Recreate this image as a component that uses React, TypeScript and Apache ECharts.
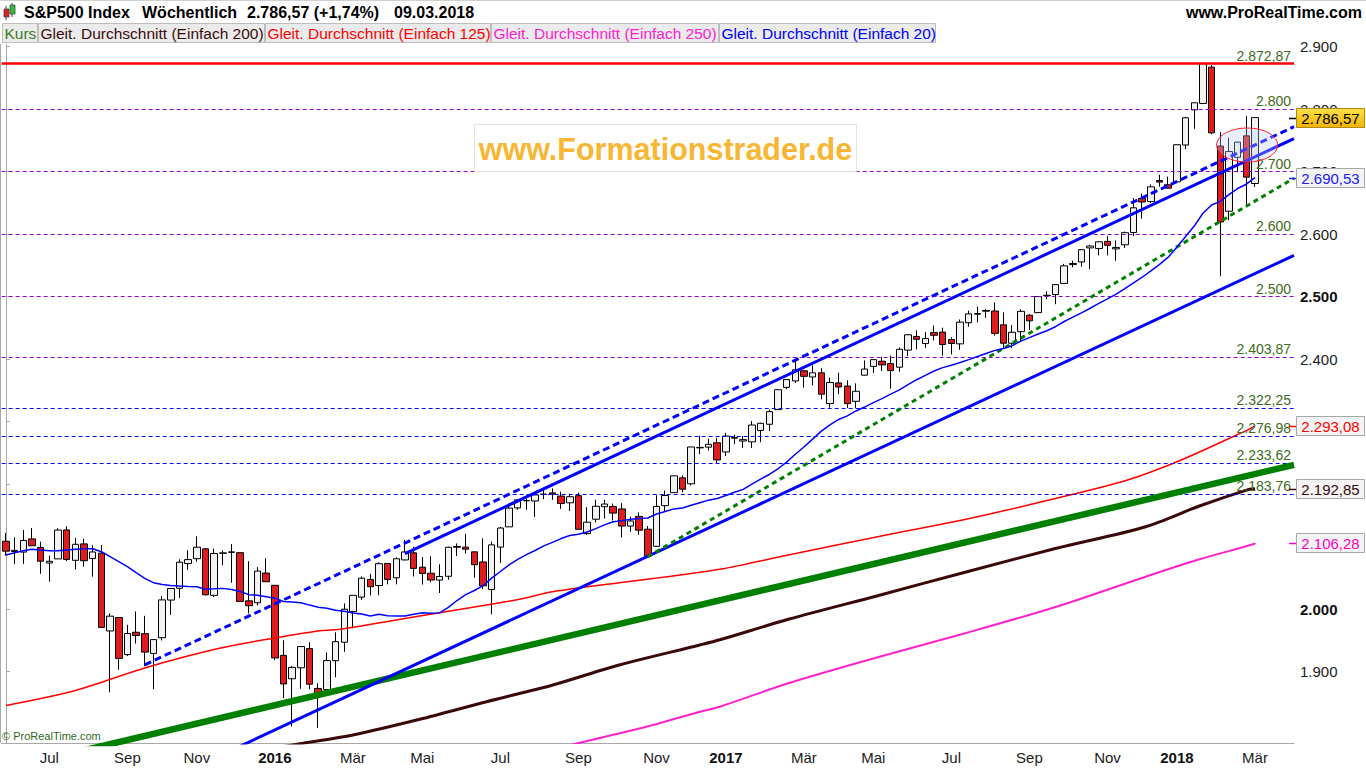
import React, { useEffect, useRef } from "react";
import * as echarts from "echarts";

// ---------- weekly candles (S&P 500, week ending Fri 05.06.2015 ... 09.03.2018) ----------
const candleOpen = [
  2108.64, 2092.34, 2091.34, 2112.5, 2098.63, 2073.95, 2080.47, 2126.8, 2078.19, 2104.49,
  2080.98, 2089.7, 1965.15, 1986.73, 1927.3, 1963.06, 1960.84, 1929.18, 1954.33, 2014.6,
  2033.47, 2073.0, 2080.76, 2096.56, 2022.08, 2089.41, 2090.95, 2090.42, 2013.37, 2010.27,
  2057.77, 2038.2, 1926.12, 1888.66, 1906.28, 1936.94, 1873.25, 1871.44, 1917.56, 1947.13,
  1996.11, 2019.27, 2047.62, 2037.89, 2073.19, 2050.23, 2078.83, 2090.21, 2067.17, 2057.55,
  2046.53, 2052.65, 2100.2, 2099.25, 2091.75, 2075.58, 2031.45, 2099.34, 2131.72, 2162.04,
  2173.71, 2173.15, 2183.74, 2186.08, 2181.0, 2170.19, 2181.61, 2120.86, 2143.99, 2163.97,
  2164.33, 2160.39, 2132.95, 2148.5, 2128.0, 2100.59, 2165.64, 2186.43, 2210.21, 2200.65,
  2258.83, 2259.24, 2266.23, 2251.57, 2273.59, 2269.14, 2267.78, 2286.01, 2295.87, 2319.23,
  2354.91, 2365.23, 2381.38, 2371.56, 2378.24, 2329.11, 2362.0, 2357.0, 2332.62, 2374.4,
  2388.5, 2396.79, 2393.0, 2387.21, 2414.5, 2436.39, 2425.02, 2442.55, 2443.32, 2431.39,
  2424.51, 2458.3, 2473.0, 2477.9, 2477.14, 2454.96, 2425.5, 2444.0, 2470.35, 2474.52,
  2501.5, 2503.4, 2521.2, 2551.4, 2555.57, 2578.08, 2577.0, 2588.4, 2576.53, 2583.0,
  2602.66, 2657.19, 2652.19, 2685.92, 2679.09, 2683.73, 2742.67, 2798.96, 2809.16, 2867.23,
  2741.06, 2636.75, 2722.99, 2757.37, 2681.06,
];
const candleHigh = [
  2121.92, 2115.02, 2126.65, 2129.87, 2108.0, 2085.67, 2129.45, 2132.82, 2114.24, 2112.66,
  2102.54, 2102.87, 1993.48, 1986.73, 1975.01, 1996.48, 1989.37, 1951.83, 2020.86, 2033.54,
  2079.74, 2094.32, 2116.48, 2097.6, 2097.06, 2094.12, 2104.27, 2090.42, 2076.72, 2067.36,
  2081.56, 2038.2, 1950.33, 1908.85, 1940.24, 1947.2, 1881.6, 1930.68, 1962.96, 2009.13,
  2022.37, 2052.36, 2056.6, 2075.07, 2073.19, 2083.0, 2111.05, 2099.89, 2083.42, 2084.87,
  2071.88, 2100.0, 2105.26, 2120.55, 2091.75, 2113.32, 2108.0, 2131.71, 2169.05, 2175.63,
  2177.09, 2182.87, 2193.81, 2193.42, 2187.94, 2184.87, 2186.57, 2163.3, 2175.3, 2175.0,
  2169.0, 2169.6, 2148.0, 2154.79, 2133.0, 2182.3, 2189.89, 2213.35, 2214.1, 2259.8,
  2277.53, 2272.56, 2273.82, 2282.1, 2279.27, 2276.96, 2300.99, 2298.31, 2319.23, 2351.31,
  2367.34, 2400.98, 2383.0, 2390.01, 2385.71, 2370.35, 2378.36, 2366.37, 2361.37, 2398.16,
  2399.29, 2403.87, 2405.77, 2418.71, 2440.23, 2446.2, 2443.75, 2453.82, 2450.42, 2435.0,
  2463.54, 2477.62, 2484.04, 2480.38, 2490.87, 2474.93, 2454.77, 2480.0, 2472.0, 2500.23,
  2508.85, 2519.44, 2552.51, 2557.65, 2575.44, 2582.98, 2588.42, 2597.02, 2590.0, 2604.21,
  2657.74, 2665.19, 2679.63, 2694.97, 2692.12, 2743.45, 2787.85, 2810.33, 2872.87, 2870.62,
  2763.39, 2754.42, 2747.76, 2789.15, 2786.57,
];
const candleLow = [
  2085.67, 2072.14, 2072.49, 2101.05, 2056.64, 2044.02, 2080.47, 2077.0, 2063.52, 2067.91,
  2052.09, 1970.89, 1867.01, 1903.07, 1925.0, 1945.0, 1908.77, 1871.91, 1950.0, 1990.73,
  2018.0, 2063.0, 2076.0, 2022.0, 2019.39, 2070.29, 2042.35, 2012.37, 1993.26, 2005.93,
  2043.62, 1918.46, 1857.83, 1812.29, 1872.65, 1872.0, 1810.1, 1871.44, 1891.0, 1931.81,
  1969.25, 2015.0, 2022.0, 2022.49, 2039.74, 2039.7, 2078.0, 2052.28, 2039.45, 2043.13,
  2025.91, 2047.0, 2085.2, 2089.0, 2050.37, 2032.0, 1991.68, 2074.02, 2131.72, 2159.01,
  2159.0, 2147.58, 2176.0, 2175.0, 2160.39, 2157.0, 2127.81, 2119.12, 2139.0, 2145.0,
  2142.0, 2114.72, 2124.0, 2119.0, 2083.79, 2100.0, 2156.0, 2186.0, 2187.0, 2198.0,
  2248.0, 2254.0, 2233.62, 2245.13, 2264.0, 2258.0, 2258.0, 2267.21, 2285.0, 2319.23,
  2352.0, 2362.0, 2354.54, 2358.0, 2335.74, 2322.25, 2344.0, 2322.0, 2322.0, 2374.0,
  2378.0, 2381.0, 2352.72, 2380.0, 2405.0, 2415.7, 2418.0, 2430.0, 2405.7, 2407.7,
  2415.0, 2452.0, 2459.0, 2466.0, 2437.75, 2417.35, 2418.0, 2428.2, 2446.5, 2474.52,
  2496.0, 2488.0, 2520.0, 2547.0, 2547.92, 2544.0, 2566.0, 2566.0, 2557.45, 2578.0,
  2597.0, 2624.75, 2650.0, 2676.0, 2673.61, 2682.36, 2736.06, 2768.64, 2808.12, 2759.97,
  2532.69, 2622.45, 2699.0, 2647.32, 2675.75,
];
const candleClose = [
  2092.83, 2094.11, 2109.99, 2101.49, 2076.78, 2076.62, 2126.64, 2079.65, 2103.84, 2077.57,
  2091.54, 1970.89, 1988.87, 1921.22, 1961.05, 1958.03, 1931.34, 1951.36, 2014.89, 2033.11,
  2075.15, 2079.36, 2099.2, 2023.04, 2089.17, 2090.11, 2091.69, 2012.37, 2005.55, 2060.99,
  2043.94, 1922.03, 1880.33, 1906.9, 1940.24, 1880.05, 1864.78, 1917.78, 1948.05, 1999.99,
  2022.19, 2049.58, 2035.94, 2072.78, 2047.6, 2080.73, 2091.58, 2065.3, 2057.14, 2046.61,
  2052.32, 2099.06, 2099.13, 2096.07, 2071.22, 2037.41, 2102.95, 2129.9, 2161.74, 2175.03,
  2173.6, 2182.87, 2184.05, 2183.87, 2169.04, 2179.98, 2127.81, 2139.16, 2164.69, 2168.27,
  2153.74, 2132.98, 2141.16, 2126.41, 2085.18, 2164.45, 2181.9, 2213.35, 2191.95, 2259.53,
  2258.07, 2263.79, 2238.83, 2276.98, 2274.64, 2271.31, 2294.69, 2297.42, 2316.1, 2351.16,
  2367.34, 2383.12, 2372.6, 2378.25, 2343.98, 2362.72, 2355.54, 2328.95, 2348.69, 2384.2,
  2399.29, 2390.9, 2381.73, 2415.82, 2439.07, 2431.77, 2433.15, 2438.3, 2423.41, 2425.18,
  2459.27, 2472.54, 2472.1, 2476.83, 2441.32, 2425.55, 2443.05, 2476.55, 2461.43, 2500.23,
  2502.22, 2519.36, 2549.33, 2553.17, 2575.21, 2581.07, 2587.84, 2582.3, 2578.85, 2602.42,
  2642.22, 2651.5, 2675.81, 2683.34, 2673.61, 2743.15, 2786.24, 2810.3, 2872.87, 2762.13,
  2619.55, 2732.22, 2747.3, 2691.25, 2786.57,
];

// first 19 values of the 20-week average
const ma20Head = [
  2086.7, 2090.4, 2093.6, 2095.8, 2094.7, 2093.6, 2093.6, 2094.7, 2095.8, 2096.8,
  2096.8, 2092.0, 2084.0, 2076.0, 2068.0, 2058.4, 2049.4, 2042.4, 2039.5,
];

// long averages: [week index, value]
const ma125Points = [
  [0, 1846], [8, 1870], [16, 1906], [24.6, 1937.4], [31, 1954], [36.2, 1965.6], [38.8, 1968.3],
  [47.7, 1989.1], [55.4, 2006.7], [59.2, 2015.8], [63, 2028], [70.7, 2042.4], [75.3, 2050.4],
  [82.3, 2063.8], [90.2, 2086.7], [100.5, 2116], [110.8, 2144.3], [121.1, 2177.4],
  [129.3, 2206.7], [135.5, 2238.7], [143.3, 2287.8], [144, 2293.08],
];
const ma200Points = [
  [30, 1776], [34.25, 1785.4], [40, 1798.7], [47.7, 1823.8], [55.4, 1852], [63.05, 1878.7],
  [70.7, 1910.7], [80, 1942.7], [82.3, 1951], [90.2, 1983.8], [100.5, 2021.6], [110.8, 2060],
  [121.1, 2097.4], [131.4, 2132], [137.6, 2165.1], [143.3, 2191.8], [144, 2192.85],
];
const ma250Points = [
  [62, 1772], [65.9, 1785.4], [74.6, 1814.7], [80, 1836], [82.3, 1844], [90.2, 1881.4],
  [100.5, 1923], [110.8, 1962.4], [121.1, 2004], [131.4, 2052], [137.6, 2079.8],
  [143.9, 2104.3], [144, 2106.28],
];

// trend lines: [week index, price]
const trendBlueDashed = [[16, 1911], [148.5, 2772]];
const trendBlueUpper = [[46, 2089], [148.5, 2753]];
const trendBlueLower = [[26, 1774.4], [148.5, 2566]];
const trendGreenDashed = [[74, 2084], [148.5, 2689.5]];
const trendGreenThick = [[8, 1771], [148.5, 2231]];

// horizontal levels
const levelValues = [2872.87, 2800, 2700, 2600, 2500, 2403.87, 2322.25, 2276.98, 2233.62, 2183.76];
const levelDecimals = [2, 0, 0, 0, 0, 2, 2, 2, 2, 2];
const levelColors = ["#ff0000", "#9400d3", "#9400d3", "#9400d3", "#9400d3", "#9400d3", "#0000ff", "#0000ff", "#0000ff", "#0000ff"];

// right-axis value boxes
const boxValues = [2786.57, 2690.53, 2293.08, 2192.85, 2106.28];
const boxTextColors = ["#000000", "#2020ff", "#ff0000", "#3a0a0a", "#ff00cc"];

// axis ticks
const yTickValues = [1900, 2000, 2100, 2200, 2300, 2400, 2500, 2600, 2700, 2800, 2900];
const tickWeeks = [5, 14, 22, 31, 40, 48, 57, 66, 75, 83, 92, 100, 109, 118, 127, 135, 144];
const tickLabels = ["Jul", "Sep", "Nov", "2016", "Mär", "Mai", "Jul", "Sep", "Nov", "2017", "Mär", "Mai", "Jul", "Sep", "Nov", "2018", "Mär"];

const SLOTS = 149;
const FONT = 'Arial, "Liberation Sans", Helvetica, sans-serif';

const deNum = (v: number, dec: number) => {
  const s = v.toFixed(dec);
  const [i, f] = s.split(".");
  const ii = i.replace(/\B(?=(\d{3})+(?!\d))/g, ".");
  return f ? ii + "," + f : ii;
};

export default function App() {
  const ref = useRef<HTMLDivElement>(null);
  useEffect(() => {
    const chart = echarts.init(ref.current!, null, { renderer: "svg" });
    const candles = candleOpen.map((o, i) => [o, candleClose[i], candleLow[i], candleHigh[i]]);
    const ma20 = candleClose.map((_, i) =>
      i < 19 ? ma20Head[i] : +(candleClose.slice(i - 19, i + 1).reduce((a, b) => a + b, 0) / 20).toFixed(2)
    );
    const cats = Array.from({ length: SLOTS }, (_, i) => String(i));
    const isTick = (idx: number) => tickWeeks.indexOf(idx) >= 0;

    const lineSeries = (data: number[][], color: string, width: number, type: any = "solid", smooth: any = false, z = 5) => ({
      type: "line",
      xAxisIndex: 1,
      yAxisIndex: 0,
      data,
      symbol: "none",
      smooth,
      silent: true,
      z,
      lineStyle: { color, width, type },
    });

    const markData = levelValues.map((v, k) => ({
      yAxis: v,
      lineStyle: {
        color: levelColors[k],
        width: k === 0 ? 2.5 : 1,
        type: k === 0 ? "solid" : [4, 3],
      },
      label: {
        show: true,
        position: "insideEndTop",
        formatter: deNum(v, levelDecimals[k]),
        color: "#3d6b21",
        fontSize: 14,
        fontFamily: FONT,
        distance: [3, 1],
      },
    }));

    const option: any = {
      animation: false,
      backgroundColor: "#ffffff",
      grid: { left: 1.66, right: 72, top: 44, bottom: 25 },
      xAxis: [
        {
          type: "category",
          data: cats,
          boundaryGap: true,
          axisLine: { lineStyle: { color: "#a8a8a8" } },
          axisTick: { alignWithLabel: true, interval: (i: number) => isTick(i), length: 5, lineStyle: { color: "#a8a8a8" } },
          axisLabel: {
            interval: (i: number) => isTick(i),
            formatter: (_v: string, idx: number) => {
              const k = tickWeeks.indexOf(idx);
              if (k < 0) return "";
              const t = tickLabels[k];
              return /^\d{4}$/.test(t) ? `{y|${t}}` : t;
            },
            color: "#222",
            fontSize: 15,
            fontFamily: FONT,
            margin: 7,
            rich: { y: { fontWeight: "bold", fontSize: 15, color: "#111", fontFamily: FONT } },
          },
          splitLine: { show: false },
        },
        { type: "value", min: -0.5, max: SLOTS - 0.5, show: false },
      ],
      yAxis: {
        type: "value",
        position: "right",
        min: 1785.9,
        max: 2904.3,
        splitLine: { show: false },
        axisLine: { show: true, lineStyle: { color: "#a8a8a8" } },
        axisTick: { show: true, length: 4, customValues: yTickValues, lineStyle: { color: "#a8a8a8" } },
        axisLabel: {
          customValues: yTickValues,
          formatter: (v: number) => {
            const s = deNum(v, 0);
            return v === 2000 || v === 2500 ? `{b|${s}}` : s;
          },
          color: "#222",
          fontSize: 15,
          fontFamily: FONT,
          margin: 6,
          rich: { b: { fontWeight: "bold", fontSize: 15, color: "#111", fontFamily: FONT } },
        },
      },
      series: [
        {
          type: "candlestick",
          xAxisIndex: 0,
          data: candles,
          barWidth: 7,
          silent: true,
          z: 3,
          itemStyle: {
            color: "#f2f2f2",
            color0: "#e01c1c",
            borderColor: "#000000",
            borderColor0: "#000000",
            borderWidth: 1,
          },
        },
        lineSeries(ma250Points, "#ff22cc", 2, "solid", 0.3, 4),
        lineSeries(ma200Points, "#3a0808", 3, "solid", 0.3, 4),
        lineSeries(ma125Points, "#ff0000", 1.5, "solid", 0.3, 4),
        lineSeries(trendGreenThick, "#008000", 6.5, "solid", false, 5),
        lineSeries(trendBlueLower, "#0000ff", 3, "solid", false, 5),
        lineSeries(trendBlueUpper, "#0000ff", 3, "solid", false, 5),
        lineSeries(trendBlueDashed, "#0000ff", 3, [7, 4], false, 5),
        lineSeries(trendGreenDashed, "#008000", 3, [5, 4], false, 5),
        {
          type: "line",
          xAxisIndex: 0,
          yAxisIndex: 0,
          data: ma20,
          symbol: "none",
          silent: true,
          z: 6,
          lineStyle: { color: "#0000ff", width: 1.5 },
          markLine: {
            silent: true,
            symbol: ["none", "none"],
            animation: false,
            data: markData,
          },
        },
      ],
    };
    chart.setOption(option);

    const py = (v: number) => chart.convertToPixel({ yAxisIndex: 0 }, v) as number;
    const pt = (i: number, v: number) => chart.convertToPixel({ xAxisIndex: 1, yAxisIndex: 0 }, [i, v]) as number[];

    const txt = (x: number, y: number, text: string, fill: string, size: number, weight = "normal", align = "left", z = 100) => ({
      type: "text",
      x,
      y,
      z,
      silent: true,
      style: { text, fill, fontSize: size, fontWeight: weight, fontFamily: FONT, align, verticalAlign: "middle" },
    });

    const g: any[] = [];
    // frame lines
    g.push({ type: "line", z: 90, silent: true, shape: { x1: 0, y1: 0.5, x2: 1366, y2: 0.5 }, style: { stroke: "#d0d0d0", lineWidth: 1 } });
    g.push({ type: "line", z: 90, silent: true, shape: { x1: 0.5, y1: 44, x2: 0.5, y2: 743 }, style: { stroke: "#a8a8a8", lineWidth: 1 } });
    // header icon
    g.push({ type: "line", z: 100, silent: true, shape: { x1: 6, y1: 6, x2: 6, y2: 20 }, style: { stroke: "#444", lineWidth: 1 } });
    g.push({ type: "rect", z: 101, silent: true, shape: { x: 4, y: 9, width: 5, height: 8 }, style: { fill: "#e02020", stroke: "#444", lineWidth: 0.8 } });
    g.push({ type: "line", z: 100, silent: true, shape: { x1: 12, y1: 3, x2: 12, y2: 17 }, style: { stroke: "#444", lineWidth: 1 } });
    g.push({ type: "rect", z: 101, silent: true, shape: { x: 10, y: 5, width: 5, height: 9 }, style: { fill: "#30c030", stroke: "#444", lineWidth: 0.8 } });
    // header texts
    g.push(txt(24, 12, "S&P500 Index", "#000", 16, "bold"));
    g.push(txt(142, 12, "Wöchentlich", "#000", 16, "bold"));
    g.push(txt(247, 12, "2.786,57 (+1,74%)", "#000", 16, "bold"));
    g.push(txt(394, 12, "09.03.2018", "#000", 16, "bold"));
    g.push(txt(1362, 12, "www.ProRealTime.com", "#000", 16, "bold", "right"));
    // legend row
    const legendBoxes = [
      [2, 35, "Kurs", "#3d7a1f"],
      [38, 226, "Gleit. Durchschnitt (Einfach 200)", "#3b0b0b"],
      [265, 225, "Gleit. Durchschnitt (Einfach 125)", "#ff0000"],
      [491, 227, "Gleit. Durchschnitt (Einfach 250)", "#ff22cc"],
      [719, 216, "Gleit. Durchschnitt (Einfach 20)", "#0000ff"],
    ] as any[];
    legendBoxes.forEach(([x, w, t, c]) => {
      g.push({ type: "rect", z: 99, silent: true, shape: { x: x + 0.5, y: 23.5, width: w, height: 19 }, style: { fill: "#ebebeb", stroke: "#bdbdbd", lineWidth: 1 } });
      g.push(txt(x + 2.5, 33.5, t, c, 15.5));
    });
    // watermark
    g.push({ type: "rect", z: 95, silent: true, shape: { x: 474.5, y: 124.5, width: 382, height: 47 }, style: { fill: "#ffffff", stroke: "#e2e2e2", lineWidth: 1 } });
    g.push(txt(665.5, 148.5, "www.Formationstrader.de", "#f8b632", 30.5, "bold", "center", 96));
    // ellipse
    const ec = pt(143.1, 2742.7);
    g.push({ type: "ellipse", z: 97, silent: true, shape: { cx: ec[0], cy: ec[1], rx: 30.5, ry: 17 }, style: { fill: "rgba(190,205,255,0.32)", stroke: "#ff2020", lineWidth: 1 } });
    // value boxes on the right axis
    boxValues.forEach((v, k) => {
      const y = Math.round(py(v)) + 0.5;
      g.push({ type: "line", z: 100, silent: true, shape: { x1: 1289, y1: y, x2: 1296, y2: y }, style: { stroke: boxTextColors[k], lineWidth: 1.5 } });
      g.push({
        type: "rect",
        z: 101,
        silent: true,
        shape: { x: 1296.5, y: y - 10, width: 68, height: 19 },
        style: {
          fill: k === 0
            ? new echarts.graphic.LinearGradient(0, 0, 0, 1, [{ offset: 0, color: "#ffe04a" }, { offset: 1, color: "#f0b400" }])
            : "#f4f4f4",
          stroke: k === 0 ? "#b08a00" : "#a8a8a8",
          lineWidth: 1,
        },
      });
      g.push(txt(1330.5, y, deNum(v, 2), boxTextColors[k], 15, "normal", "center", 102));
    });
    // copyright
    g.push(txt(2, 736, "© ProRealTime.com", "#2e6b14", 11, "normal", "left", 100));

    chart.setOption({ graphic: g });
    return () => chart.dispose();
  }, []);
  return (
    <div
      ref={ref}
      style={{ position: "fixed", left: 0, top: 0, width: 1366, height: 768, background: "#ffffff" }}
    />
  );
}
